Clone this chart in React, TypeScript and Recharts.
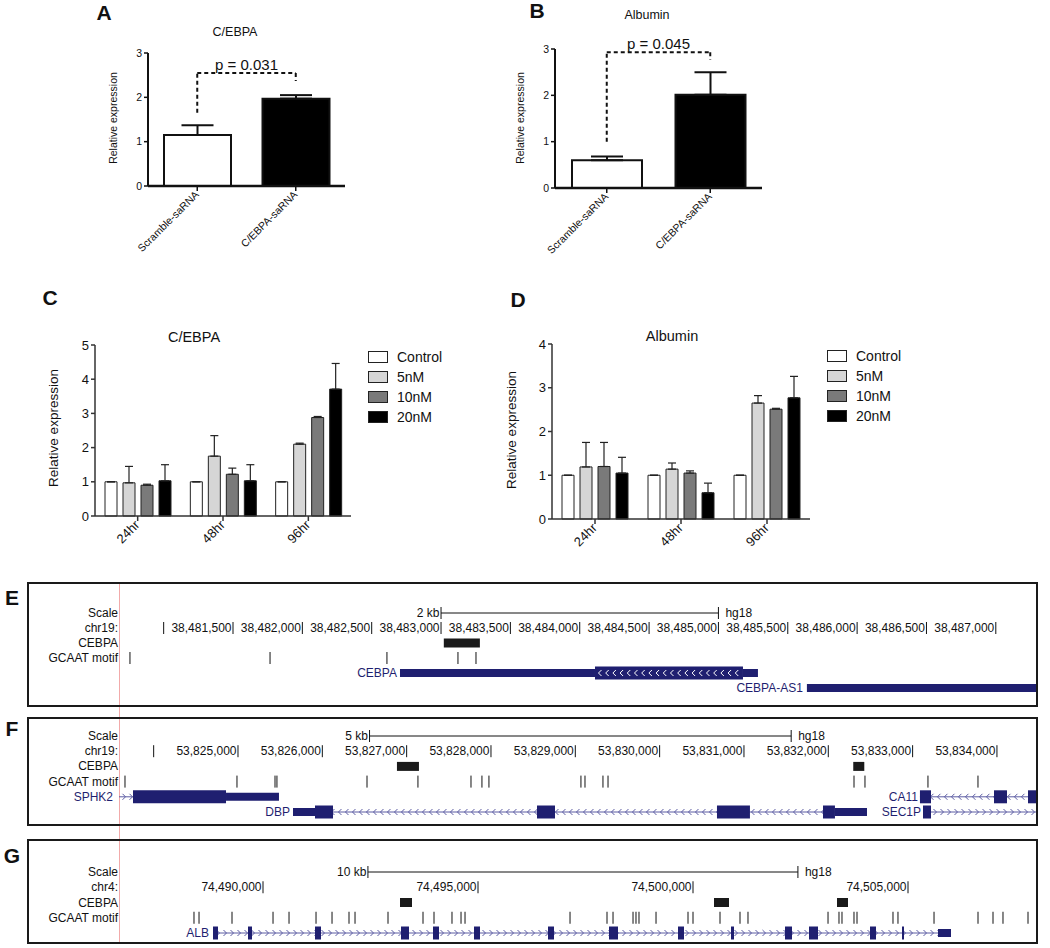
import React from 'react';
import {
  BarChart,
  Bar,
  XAxis,
  YAxis,
  Cell,
  ErrorBar,
  ReferenceLine,
  ReferenceArea,
  ComposedChart,
  Scatter,
  Legend,
} from 'recharts';

const FONT = '"Liberation Sans", Arial, Helvetica, sans-serif';
const INK = '#111111';
const NAVY = '#1f1f70';
const INTRON = '#5c5ca3';

// ---- A / B: saRNA transfection ----
const saRnaGroups = ['Scramble-saRNA', 'C/EBPA-saRNA'];
const saRnaFills = ['#ffffff', '#000000'];
const cebpaSaMean = [1.15, 1.97];
const cebpaSaErr = [0.22, 0.08];
const albSaMean = [0.6, 2.01];
const albSaErr = [0.08, 0.49];
// dashed bracket: left foot, top, right foot
const cebpaBracket = [1.65, 2.55, 2.37];
const albBracket = [1.0, 2.93, 2.77];

// ---- C / D: dose response ----
const timepoints = ['24hr', '48hr', '96hr'];
const doses = ['Control', '5nM', '10nM', '20nM'];
const doseFills = ['#ffffff', '#d6d6d6', '#7a7a7a', '#000000'];
const cebpaDoseMean = [
  [1, 1, 1],
  [0.97, 1.75, 2.1],
  [0.9, 1.22, 2.88],
  [1.03, 1.03, 3.71],
];
const cebpaDoseErr = [
  [0, 0, 0],
  [0.48, 0.6, 0.03],
  [0.03, 0.18, 0.03],
  [0.47, 0.47, 0.75],
];
const albDoseMean = [
  [1, 1, 1],
  [1.19, 1.14, 2.65],
  [1.2, 1.05, 2.51],
  [1.05, 0.6, 2.77],
];
const albDoseErr = [
  [0, 0, 0],
  [0.56, 0.14, 0.17],
  [0.55, 0.05, 0.02],
  [0.36, 0.22, 0.49],
];

// ---- E / F / G: genome browser tracks (hg18) ----
type Block = [number, number, 'cds' | 'utr'];
interface Gene { name: string; row: number; strand: 1 | -1; span: [number, number]; blocks: Block[] }

const eDomain: [number, number] = [38480678, 38487297];
const eRowLabels = ['Scale', 'chr19:', 'CEBPA', 'GCAAT motif', '', ''];
const eTickPos = [38481000, 38481500, 38482000, 38482500, 38483000, 38483500, 38484000, 38484500, 38485000, 38485500, 38486000, 38486500, 38487000];
const eTickText = ['', '38,481,500', '38,482,000', '38,482,500', '38,483,000', '38,483,500', '38,484,000', '38,484,500', '38,485,000', '38,485,500', '38,486,000', '38,486,500', '38,487,000'];
const eScaleBar: [number, number] = [38483000, 38485000];
const ePeaks: [number, number][] = [[38483020, 38483280]];
const eMotifs = [38480757, 38481767, 38482610, 38483122, 38483252];
const eGenes: Gene[] = [
  { name: 'CEBPA', row: 4, strand: -1, span: [38482704, 38485285], blocks: [[38482704, 38484110, 'utr'], [38484110, 38485177, 'cds'], [38485177, 38485285, 'utr']] },
  { name: 'CEBPA-AS1', row: 5, strand: 1, span: [38485638, 38487500], blocks: [[38485638, 38487500, 'utr']] },
];

const fDomain: [number, number] = [53823589, 53834475];
const fRowLabels = ['Scale', 'chr19:', 'CEBPA', 'GCAAT motif', '', ''];
const fTickPos = [53824000, 53825000, 53826000, 53827000, 53828000, 53829000, 53830000, 53831000, 53832000, 53833000, 53834000];
const fTickText = ['', '53,825,000', '53,826,000', '53,827,000', '53,828,000', '53,829,000', '53,830,000', '53,831,000', '53,832,000', '53,833,000', '53,834,000'];
const fScaleBar: [number, number] = [53826560, 53831560];
const fPeaks: [number, number][] = [[53826885, 53827146], [53832296, 53832427]];
const fMotifs = [53823660, 53824988, 53825439, 53825462, 53826530, 53827134, 53827763, 53827893, 53827976, 53829067, 53829115, 53829328, 53829388, 53832305, 53832435, 53833182, 53833775];
const fGenes: Gene[] = [
  { name: 'SPHK2', row: 4, strand: 1, span: [53823300, 53825486], blocks: [[53823755, 53824858, 'cds'], [53824858, 53825486, 'utr']] },
  { name: 'DBP', row: 5, strand: -1, span: [53825652, 53832459], blocks: [[53825652, 53825913, 'utr'], [53825913, 53826127, 'cds'], [53828546, 53828759, 'cds'], [53830680, 53831071, 'cds'], [53831937, 53832079, 'cds'], [53832079, 53832459, 'utr']] },
  { name: 'CA11', row: 4, strand: -1, span: [53833087, 53835000], blocks: [[53833087, 53833218, 'cds'], [53833965, 53834119, 'cds'], [53834368, 53834560, 'cds']] },
  { name: 'SEC1P', row: 5, strand: 1, span: [53833123, 53835000], blocks: [[53833123, 53833218, 'cds']] },
];

const gDomain: [number, number] = [74486651, 74508000];
const gRowLabels = ['Scale', 'chr4:', 'CEBPA', 'GCAAT motif', ''];
const gTickPos = [74490000, 74495000, 74500000, 74505000];
const gTickText = ['74,490,000', '74,495,000', '74,500,000', '74,505,000'];
const gScaleBar: [number, number] = [74492440, 74502440];
const gPeaks: [number, number][] = [[74493186, 74493465], [74500488, 74500837], [74503349, 74503605]];
const gMotifs = [
  74488395, 74488512, 74489279, 74490233, 74490605, 74491233, 74491605, 74492000, 74492140, 74492907,
  74493721, 74493977, 74494395, 74494605, 74494698, 74497140, 74498000, 74498140, 74498605, 74498674,
  74498744, 74499140, 74499884, 74500000, 74500628, 74501093, 74501279, 74503140, 74503395, 74503465,
  74503744, 74503814, 74504651, 74504767, 74505605, 74506628, 74506977, 74507209, 74507791,
];
const gGenes: Gene[] = [
  {
    name: 'ALB', row: 4, strand: 1, span: [74488837, 74506000],
    blocks: [
      [74488837, 74488953, 'cds'], [74489651, 74489744, 'cds'], [74491209, 74491349, 'cds'], [74493209, 74493395, 'cds'],
      [74493953, 74494093, 'cds'], [74494907, 74495047, 'cds'], [74496628, 74496767, 'cds'], [74498047, 74498256, 'cds'],
      [74499651, 74499791, 'cds'], [74500884, 74500953, 'cds'], [74502140, 74502302, 'cds'], [74502698, 74502907, 'cds'],
      [74504116, 74504256, 'cds'], [74504860, 74504907, 'cds'], [74505698, 74506000, 'utr'],
    ],
  },
];

// gap between gene label and its first block (px)
const labelGaps: Record<string, number> = { SPHK2: 20, CA11: 2, SEC1P: 2, DBP: 3, ALB: 4, CEBPA: 3, 'CEBPA-AS1': 4 };

// ---------- small shapes ----------
const SlantTick = ({ x, y, payload, size }: any) => (
  <text
    x={x}
    y={y}
    dy={size * 0.3}
    textAnchor="end"
    fontSize={size}
    fill={INK}
    fontFamily={FONT}
    transform={`rotate(-45 ${x} ${y})`}
  >
    {payload.value}
  </text>
);

const RowTick = ({ x, y, payload, labels }: any) => {
  const text = labels[payload.value];
  if (!text) return <g />;
  return (
    <text x={x} y={y} textAnchor="end" dominantBaseline="central" fontSize={12} fill={INK} fontFamily={FONT}>
      {text}
    </text>
  );
};

const CoordTick = ({ cx, cy, payload }: any) => (
  <g>
    <line x1={cx} x2={cx} y1={cy - 6} y2={cy + 6} stroke={INK} strokeWidth={1} />
    {payload.text ? (
      <text x={cx - 1.5} y={cy} textAnchor="end" dominantBaseline="central" fontSize={12} fill={INK} fontFamily={FONT}>
        {payload.text}
      </text>
    ) : null}
  </g>
);

const MotifMark = ({ cx, cy }: any) => (
  <line x1={cx} x2={cx} y1={cy - 6} y2={cy + 6} stroke={INK} strokeWidth={1} />
);

const chevron = (m: number, cy: number, strand: number, color: string, key: number) => (
  <polyline
    key={key}
    points={strand > 0
      ? `${m - 1.5},${cy - 3} ${m + 1.5},${cy} ${m - 1.5},${cy + 3}`
      : `${m + 1.5},${cy - 3} ${m - 1.5},${cy} ${m + 1.5},${cy + 3}`}
    fill="none"
    stroke={color}
    strokeWidth={1}
  />
);

const IntronShape = ({ x, y, width, height, strand }: any) => {
  const cy = y + height / 2;
  const marks: number[] = [];
  for (let m = x + 5; m < x + width - 3; m += 7) marks.push(m);
  return (
    <g>
      <line x1={x} x2={x + width} y1={cy} y2={cy} stroke={INTRON} strokeWidth={1} />
      {marks.map((m, i) => chevron(m, cy, strand, INTRON, i))}
    </g>
  );
};

const ArrowBlock = ({ x, y, width, height, strand }: any) => {
  const cy = y + height / 2;
  const marks: number[] = [];
  for (let m = x + 5; m < x + width - 4; m += 7.2) marks.push(m);
  return (
    <g>
      <rect x={x} y={y} width={width} height={height} fill={NAVY} />
      {marks.map((m, i) => chevron(m, cy, strand, '#ffffff', i))}
    </g>
  );
};

const DoseLegend = () => (
  <div style={{ fontFamily: FONT, color: INK }}>
    {doses.map((d, i) => (
      <div key={d} style={{ display: 'flex', alignItems: 'center', height: 20 }}>
        <span
          style={{
            display: 'inline-block',
            width: 20,
            height: 12,
            boxSizing: 'border-box',
            background: doseFills[i],
            border: '1.5px solid #222',
          }}
        />
        <span style={{ marginLeft: 9, fontSize: 14, lineHeight: '20px' }}>{d}</span>
      </div>
    ))}
  </div>
);

// ---------- panels ----------
const SaPanel = ({ left, plot, means, errs, bracket, pText, barSize }: any) => {
  const W = 360;
  const H = 270;
  const data = saRnaGroups.map((name, i) => ({ name, mean: means[i], err: [0, errs[i]] }));
  const [g0, g1] = saRnaGroups;
  const dash = { stroke: INK, strokeWidth: 2, strokeDasharray: '4 3' };
  return (
    <div style={{ position: 'absolute', left, top: 0 }}>
      <BarChart
        width={W}
        height={H}
        data={data}
        margin={{ top: plot.y0, left: plot.x0 - left - 40, right: left + W - plot.x1, bottom: H - plot.y1 - 70 }}
      >
        <XAxis
          dataKey="name"
          height={70}
          interval={0}
          axisLine={{ stroke: INK, strokeWidth: 2.5 }}
          tickLine={{ stroke: INK, strokeWidth: 1.5 }}
          tickSize={5}
          tickMargin={2}
          tick={(p: any) => <SlantTick {...p} size={10.5} />}
        />
        <YAxis
          domain={[0, 3]}
          ticks={[0, 1, 2, 3]}
          width={40}
          axisLine={{ stroke: INK, strokeWidth: 2 }}
          tickLine={{ stroke: INK, strokeWidth: 1.5 }}
          tickSize={4}
          tickMargin={2}
          tick={{ fontSize: 10.5, fill: INK, fontFamily: FONT }}
        />
        <Bar dataKey="mean" barSize={barSize} stroke={INK} strokeWidth={2} isAnimationActive={false}>
          {saRnaGroups.map((g, i) => (
            <Cell key={g} fill={saRnaFills[i]} />
          ))}
          <ErrorBar dataKey="err" width={16} stroke={INK} strokeWidth={2} />
        </Bar>
        <ReferenceLine segment={[{ x: g0, y: bracket[0] }, { x: g0, y: bracket[1] }]} {...dash} />
        <ReferenceLine
          segment={[{ x: g0, y: bracket[1] }, { x: g1, y: bracket[1] }]}
          {...dash}
          label={{ value: pText, position: 'top', offset: 3, fontSize: 15, fill: INK, fontFamily: FONT }}
        />
        <ReferenceLine segment={[{ x: g1, y: bracket[1] }, { x: g1, y: bracket[2] }]} {...dash} />
      </BarChart>
    </div>
  );
};

const DosePanel = ({ left, plot, means, errs, yTicks, legendAt }: any) => {
  const W = 480;
  const H = 280;
  const top = 300;
  const data = timepoints.map((time, i) => {
    const row: Record<string, any> = { time };
    doses.forEach((d, j) => {
      row[d] = means[j][i];
      row[`${d}Err`] = [0, errs[j][i]];
    });
    return row;
  });
  return (
    <div style={{ position: 'absolute', left, top }}>
      <BarChart
        width={W}
        height={H}
        data={data}
        barSize={12}
        barGap={6}
        margin={{ top: plot.y0 - top, left: plot.x0 - left - 40, right: left + W - plot.x1, bottom: top + H - plot.y1 - 50 }}
      >
        <XAxis
          dataKey="time"
          height={50}
          interval={0}
          axisLine={{ stroke: '#333', strokeWidth: 1.5 }}
          tickLine={{ stroke: '#333', strokeWidth: 1.5 }}
          tickSize={5}
          tickMargin={2}
          tick={(p: any) => <SlantTick {...p} size={13} />}
        />
        <YAxis
          domain={[0, yTicks[yTicks.length - 1]]}
          ticks={yTicks}
          width={40}
          axisLine={{ stroke: '#333', strokeWidth: 1.5 }}
          tickLine={{ stroke: '#333', strokeWidth: 1.5 }}
          tickSize={4}
          tickMargin={2}
          tick={{ fontSize: 13, fill: INK, fontFamily: FONT }}
        />
        <Legend
          layout="vertical"
          align="center"
          verticalAlign="middle"
          wrapperStyle={{ left: legendAt.x - left, top: legendAt.y - top, width: 'auto' }}
          content={() => <DoseLegend />}
        />
        {doses.map((d, j) => (
          <Bar key={d} dataKey={d} name={d} fill={doseFills[j]} stroke="#222" strokeWidth={1} isAnimationActive={false}>
            <ErrorBar dataKey={`${d}Err`} width={4} stroke="#222" strokeWidth={1.2} />
          </Bar>
        ))}
      </BarChart>
    </div>
  );
};

const GenomeTrack = ({ top, height, unitPx, row0, domain, rowLabels, tickPos, tickText, scaleBar, scaleText, peaks, motifs, genes }: any) => {
  const dmin = -row0 / unitPx;
  const dmax = dmin + height / unitPx;
  const u = (px: number) => px / unitPx;
  const clamp = (v: number) => Math.min(Math.max(v, domain[0]), domain[1]);
  const rows = rowLabels.map((_: string, i: number) => i);
  const tickData = tickPos.map((pos: number, i: number) => ({ pos, row: 1, text: tickText[i] }));
  const motifData = motifs.map((pos: number) => ({ pos, row: 3 }));
  const labelStyle = { fontSize: 12, fill: INK, fontFamily: FONT };

  return (
    <div style={{ position: 'absolute', left: 27, top }}>
      <ComposedChart width={1010} height={height} margin={{ top: 0, right: 0, bottom: 0, left: 0 }}>
        <XAxis type="number" dataKey="pos" domain={domain} scale="linear" allowDataOverflow hide />
        <YAxis
          type="number"
          dataKey="row"
          domain={[dmin, dmax]}
          reversed
          allowDataOverflow
          ticks={rows}
          interval={0}
          width={92}
          axisLine={false}
          tickLine={false}
          tickSize={0}
          tickMargin={1}
          tick={<RowTick labels={rowLabels} />}
        />
        {/* scale bar */}
        <ReferenceLine segment={[{ x: scaleBar[0], y: 0 }, { x: scaleBar[1], y: 0 }]} stroke={INK} strokeWidth={1} />
        <ReferenceLine
          segment={[{ x: scaleBar[0], y: -u(6) }, { x: scaleBar[0], y: u(6) }]}
          stroke={INK}
          strokeWidth={1}
          label={{ value: scaleText, position: 'left', offset: 1.5, ...labelStyle }}
        />
        <ReferenceLine
          segment={[{ x: scaleBar[1], y: -u(6) }, { x: scaleBar[1], y: u(6) }]}
          stroke={INK}
          strokeWidth={1}
          label={{ value: 'hg18', position: 'right', offset: 7, ...labelStyle }}
        />
        {/* CEBPA ChIP peaks */}
        {peaks.map(([a, b]: [number, number]) => (
          <ReferenceArea key={`pk-${a}`} x1={a} x2={b} y1={2 - u(4.5)} y2={2 + u(4.5)} fill="#1a1a1a" fillOpacity={1} stroke="none" />
        ))}
        {/* genes */}
        {genes.map((g: Gene) => {
          const contiguous = g.blocks.every((b, i) => i === 0 || g.blocks[i - 1][1] === b[0]);
          const intronless = contiguous && g.span[0] === g.blocks[0][0] && g.span[1] === g.blocks[g.blocks.length - 1][1];
          return (
            <React.Fragment key={g.name}>
              {!intronless && (
                <ReferenceArea
                  x1={clamp(g.span[0])}
                  x2={clamp(g.span[1])}
                  y1={g.row - u(4)}
                  y2={g.row + u(4)}
                  ifOverflow="visible"
                  shape={<IntronShape strand={g.strand} />}
                />
              )}
              {g.blocks.map((b, i) => {
                const half = b[2] === 'cds' ? 6.5 : 4;
                const label = i === 0
                  ? { value: g.name, position: 'left' as const, offset: labelGaps[g.name] ?? 3, fontSize: 12, fill: NAVY, fontFamily: FONT }
                  : undefined;
                return (
                  <ReferenceArea
                    key={`${g.name}-${i}`}
                    x1={clamp(b[0])}
                    x2={clamp(b[1])}
                    y1={g.row - u(half)}
                    y2={g.row + u(half)}
                    fill={NAVY}
                    fillOpacity={1}
                    stroke="none"
                    ifOverflow="visible"
                    label={label}
                    shape={intronless && b[2] === 'cds' ? <ArrowBlock strand={g.strand} /> : undefined}
                  />
                );
              })}
            </React.Fragment>
          );
        })}
        <Scatter data={tickData} shape={<CoordTick />} isAnimationActive={false} />
        <Scatter data={motifData} shape={<MotifMark />} isAnimationActive={false} />
      </ComposedChart>
    </div>
  );
};

const Txt = ({ x, y, size, bold, rotate, children }: any) => (
  <div
    style={{
      position: 'absolute',
      left: x,
      top: y,
      transform: `translate(-50%, -50%)${rotate ? ` rotate(${rotate}deg)` : ''}`,
      fontSize: size,
      fontWeight: bold ? 700 : 400,
      whiteSpace: 'nowrap',
      lineHeight: 1,
      fontFamily: FONT,
      color: INK,
    }}
  >
    {children}
  </div>
);

const boxStyle = (top: number, height: number): React.CSSProperties => ({
  position: 'absolute',
  left: 27,
  top,
  width: 1011,
  height,
  border: '2px solid #1a1a1a',
  boxSizing: 'border-box',
  pointerEvents: 'none',
});

export default function App() {
  return (
    <div
      style={{
        position: 'absolute',
        left: 0,
        top: 0,
        width: 1050,
        height: 948,
        background: '#ffffff',
        overflow: 'hidden',
        fontFamily: FONT,
      }}
    >
      <SaPanel left={0} plot={{ x0: 148, x1: 345, y0: 53, y1: 186 }} means={cebpaSaMean} errs={cebpaSaErr} bracket={cebpaBracket} pText="p = 0.031" barSize={67} />
      <SaPanel left={420} plot={{ x0: 555, x1: 762, y0: 49, y1: 188 }} means={albSaMean} errs={albSaErr} bracket={albBracket} pText="p = 0.045" barSize={70} />
      <DosePanel left={0} plot={{ x0: 95, x1: 351, y0: 345, y1: 516 }} means={cebpaDoseMean} errs={cebpaDoseErr} yTicks={[0, 1, 2, 3, 4, 5]} legendAt={{ x: 368, y: 347 }} />
      <DosePanel left={470} plot={{ x0: 552, x1: 810, y0: 344, y1: 519 }} means={albDoseMean} errs={albDoseErr} yTicks={[0, 1, 2, 3, 4]} legendAt={{ x: 827, y: 346 }} />

      {/* browser base-position highlight line */}
      <div style={{ position: 'absolute', left: 119, top: 582, width: 1, height: 362, background: '#f2aaaa' }} />

      <GenomeTrack top={582} height={125} unitPx={15} row0={31} domain={eDomain} rowLabels={eRowLabels} tickPos={eTickPos} tickText={eTickText} scaleBar={eScaleBar} scaleText="2 kb" peaks={ePeaks} motifs={eMotifs} genes={eGenes} />
      <GenomeTrack top={717} height={109} unitPx={15.2} row0={19} domain={fDomain} rowLabels={fRowLabels} tickPos={fTickPos} tickText={fTickText} scaleBar={fScaleBar} scaleText="5 kb" peaks={fPeaks} motifs={fMotifs} genes={fGenes} />
      <GenomeTrack top={839} height={105} unitPx={15.25} row0={33} domain={gDomain} rowLabels={gRowLabels} tickPos={gTickPos} tickText={gTickText} scaleBar={gScaleBar} scaleText="10 kb" peaks={gPeaks} motifs={gMotifs} genes={gGenes} />

      <div style={boxStyle(582, 125)} />
      <div style={boxStyle(717, 109)} />
      <div style={boxStyle(839, 105)} />

      {/* panel letters */}
      <Txt x={104} y={12} size={21} bold>A</Txt>
      <Txt x={537} y={10} size={21} bold>B</Txt>
      <Txt x={50} y={297} size={21} bold>C</Txt>
      <Txt x={518} y={299} size={21} bold>D</Txt>
      <Txt x={12} y={597} size={21} bold>E</Txt>
      <Txt x={12} y={728} size={21} bold>F</Txt>
      <Txt x={12} y={855} size={21} bold>G</Txt>

      {/* titles */}
      <Txt x={235} y={32} size={12.5}>C/EBPA</Txt>
      <Txt x={647} y={15} size={12.5}>Albumin</Txt>
      <Txt x={194} y={337} size={14.5}>C/EBPA</Txt>
      <Txt x={672} y={336} size={14.5}>Albumin</Txt>

      {/* y-axis titles */}
      <Txt x={113} y={118} size={10.5} rotate={-90}>Relative expression</Txt>
      <Txt x={520} y={118} size={10.5} rotate={-90}>Relative expression</Txt>
      <Txt x={54} y={428} size={13.5} rotate={-90}>Relative expression</Txt>
      <Txt x={512} y={430} size={13.5} rotate={-90}>Relative expression</Txt>
    </div>
  );
}
